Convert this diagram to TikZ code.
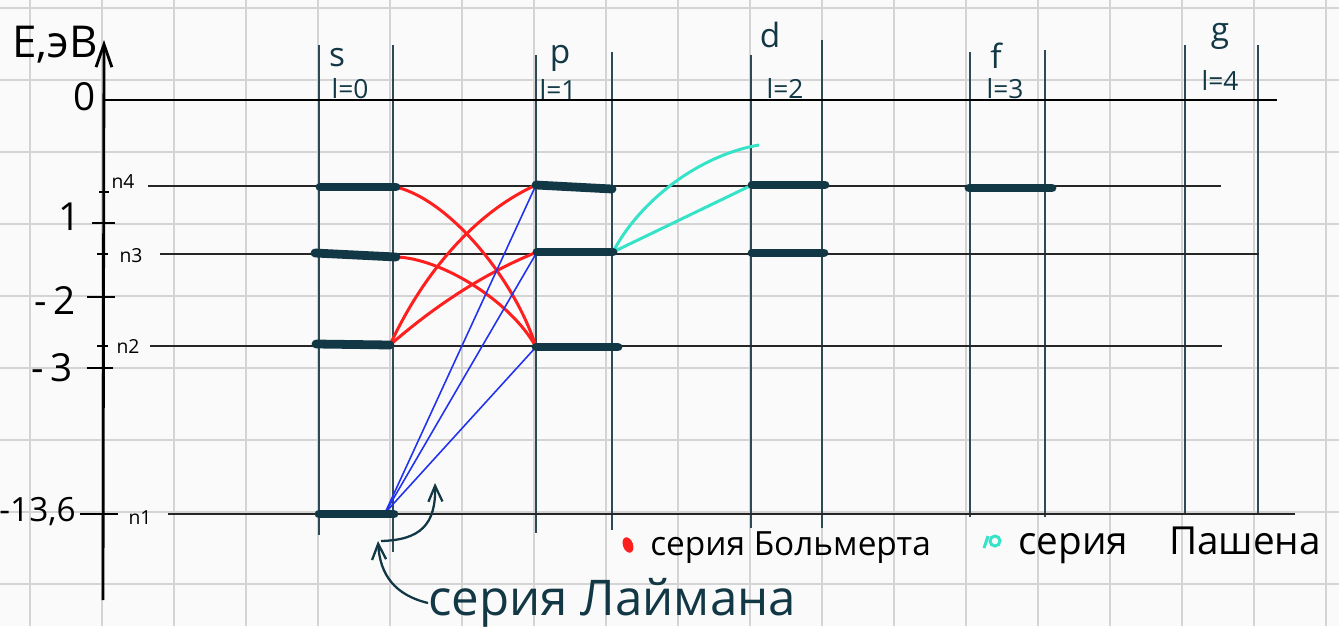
\documentclass[tikz,border=0pt]{standalone}
\usepackage{fontspec}
\setmainfont{Open Sans}
\usetikzlibrary{arrows.meta}
\definecolor{ink}{HTML}{133845}
\definecolor{colline}{HTML}{2E4A56}
\definecolor{gridgray}{HTML}{D4D4D4}
\definecolor{balmercol}{HTML}{FF1F1F}
\definecolor{lymancol}{HTML}{2233EE}
\definecolor{paschencol}{HTML}{35E3C9}
\newcommand{\fs}[1]{\fontsize{#1}{#1}\selectfont}

\begin{document}
\begin{tikzpicture}[x=0.02cm, y=-0.02cm,
  gridline/.style={gridgray, line width=1.5pt},
  col/.style={colline, line width=0.8pt},
  lvl/.style={black!85, line width=0.8pt},
  bar/.style={ink, line width=5pt, line cap=round},
  bal/.style={balmercol, line width=1.7pt},
  lym/.style={lymancol, line width=0.9pt},
  pas/.style={paschencol, line width=1.7pt},
  tick/.style={black, line width=1.2pt},
  num/.style={inner sep=0pt, font=\fs{22}},
  nlbl/.style={inner sep=0pt, font=\fs{11}},
  orb/.style={ink, inner sep=0pt, font=\fs{19}},
  orbl/.style={ink, inner sep=0pt, font=\fs{15}},
  legend/.style={inner sep=0pt, anchor=west}]
  \fill[white!98!black] (0,0) rectangle (1339,626);
  \useasboundingbox (0,0) rectangle (1339,626);
  \foreach \i in {0,...,18} \draw[gridline] (30+72*\i,0) -- (30+72*\i,626);
  \foreach \j in {0,...,8} \draw[gridline] (0,8+72*\j) -- (1339,8+72*\j);

  \draw[col] (319,45) -- (319,535);
  \draw[col] (393,45) -- (393,552);
  \draw[col] (536,55) -- (536,533);
  \draw[col] (612,52) -- (612,530);
  \draw[col] (751,55) -- (751,528);
  \draw[col] (822,40) -- (822,528);
  \draw[col] (970,52) -- (970,517);
  \draw[col] (1045,50) -- (1045,517);
  \draw[col] (1185,45) -- (1185,513);
  \draw[col] (1258,45) -- (1258,513);

  \node[orb] (s) at (337,58) {s};
  \node[orbl] (s-l) at (350,89) {l=0};
  \node[orb] (p) at (560,58) {p};
  \node[orbl] (p-l) at (558,89) {l=1};
  \node[orb] (d) at (770,35) {d};
  \node[orbl] (d-l) at (785,88) {l=2};
  \node[orb] (f) at (996,56) {f};
  \node[orbl] (f-l) at (1005,89) {l=3};
  \node[orb] (g) at (1220,36) {g};
  \node[orbl] (g-l) at (1220,80) {l=4};

  \draw[lvl] (148,186) -- (1221,186);
  \draw[lvl] (160,254) -- (1259,254);
  \draw[lvl] (150,346) -- (1222,346);
  \draw[lvl] (168,514) -- (1295,514);

  \draw[black, line width=1.6pt] (103,100) -- (1277,100);
  \draw[black, line width=1.6pt, -{Straight Barb[length=13pt, width=9pt]}] (103,600) -- (104,40);
  \draw[tick] (92,223) -- (115,223);
  \draw[tick] (87,297) -- (115,297);
  \draw[tick] (87,368) -- (113,368);
  \draw[tick] (80,514) -- (118,514);
  \draw[tick] (99,192) -- (109,192);
  \draw[tick] (97,254) -- (108,254);
  \draw[tick] (97,346) -- (108,346);

  \node[inner sep=0pt, font=\fs{25}] (axis) at (55,45) {E,эВ};
  \node[num] (e0) at (85,97) {0};
  \node[num] (e1) at (70,217) {1};
  \node[num] (e2) at (55,300) {-\,2};
  \node[num] (e3) at (52,368) {-\,3};
  \node[num, font=\fs{19}, anchor=east] (e136) at (76,512) {-13,6};
  \node[nlbl] (n4) at (123,182) {n4};
  \node[nlbl] (n3) at (131,256) {n3};
  \node[nlbl] (n2) at (128,346) {n2};
  \node[nlbl] (n1) at (140,518) {n1};

  \coordinate (s4l) at (320,187); \coordinate (s4r) at (396,187);
  \coordinate (s3l) at (315,253); \coordinate (s3r) at (396,257);
  \coordinate (s2l) at (316,344); \coordinate (s2r) at (390,345);
  \coordinate (s1l) at (319,514); \coordinate (s1r) at (394,514);
  \coordinate (p4l) at (536,185); \coordinate (p4r) at (612,189);
  \coordinate (p3l) at (537,252); \coordinate (p3r) at (613,252);
  \coordinate (p2l) at (536,347); \coordinate (p2r) at (618,347);
  \coordinate (d4l) at (752,185); \coordinate (d4r) at (825,185);
  \coordinate (d3l) at (752,253); \coordinate (d3r) at (824,253);
  \coordinate (f4l) at (969,188); \coordinate (f4r) at (1052,188);
  \coordinate (s1t) at (385,513);
  \coordinate (n5) at (759,145);

  \draw[bal] (s4r) .. controls (450,200) and (515,280) .. (p2l);
  \draw[bal] (s3r) .. controls (440,258) and (510,300) .. (p2l);
  \draw[bal] (s2r) .. controls (420,280) and (470,215) .. (p4l);
  \draw[bal] (s2r) .. controls (430,310) and (480,275) .. (p3l);
  \draw[lym] (s1t) -- (p4l);
  \draw[lym] (s1t) -- (p3l);
  \draw[lym] (s1t) -- (p2l);
  \draw[pas] (p3r) -- (d4l);
  \draw[pas] (p3r) .. controls (640,200) and (700,155) .. (n5);

  \draw[bar] (s4l) -- (s4r);
  \draw[bar] (s3l) -- (s3r);
  \draw[bar] (s2l) -- (s2r);
  \draw[bar] (s1l) -- (s1r);
  \draw[bar] (p4l) -- (p4r);
  \draw[bar] (p3l) -- (p3r);
  \draw[bar] (p2l) -- (p2r);
  \draw[bar] (d4l) -- (d4r);
  \draw[bar] (d3l) -- (d3r);
  \draw[bar] (f4l) -- (f4r);

  \node[ink, legend, font=\fs{28}] (lyman) at (428,603) {серия Лаймана};
  \coordinate (lyman-a) at (378,541);
  \coordinate (lyman-b) at (435,483);
  \draw[ink, line width=1.3pt, -{Straight Barb[length=9pt, width=8pt]}]
    (lyman.west) .. controls (395,595) and (380,575) .. (lyman-a);
  \draw[ink, line width=1.3pt, -{Straight Barb[length=9pt, width=8pt]}]
    (381,541) .. controls (420,540) and (436,525) .. (lyman-b);

  \fill[balmercol, rotate around={20:(628,545)}] (628,545) ellipse (5 and 8);
  \node[legend, font=\fs{19}] (balmer) at (650,548) {серия Больмерта};
  \draw[pas] (984,548) -- (988,536);
  \draw[pas] (995,541) circle (5);
  \node[legend, font=\fs{22}] (paschen) at (1018,545) {серия \hspace{0.8em}Пашена};
\end{tikzpicture}
\end{document}
